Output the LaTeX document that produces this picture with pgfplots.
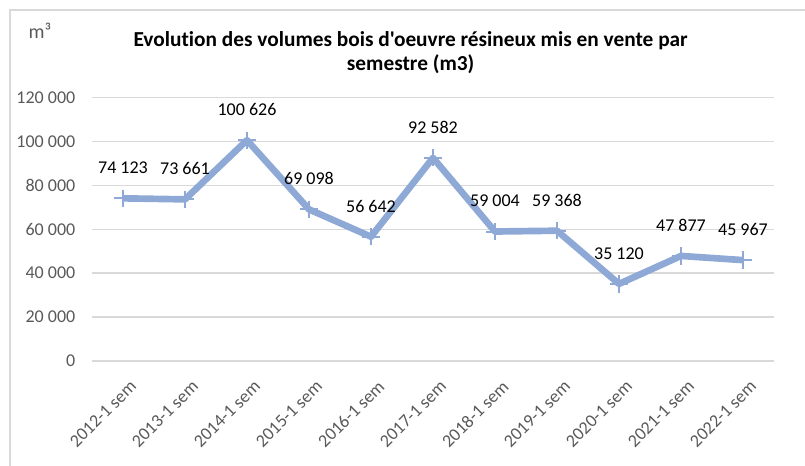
\documentclass[border=0pt]{standalone}
\usepackage{pgfplots}
\pgfplotsset{compat=1.18}
\usepackage{fontspec}
\setmainfont{Carlito}[Ligatures={NoCommon,TeXOff}]
\definecolor{linec}{RGB}{143,169,214}
\definecolor{gridc}{RGB}{217,217,217}
\definecolor{txtc}{RGB}{89,89,89}
\begin{document}
\begin{tikzpicture}
\useasboundingbox (0pt,0pt) rectangle (603.75pt,349.5pt);
\begin{scope}
\clip (0pt,0pt) rectangle (603.75pt,349.5pt);
\draw[gridc, line width=1.1pt] (7.5pt,-5pt) -- (7.5pt,342pt) -- (610pt,342pt);
\end{scope}
\node[txtc, font=\fontsize{15}{18}\selectfont] at (30pt,326.5pt) {m³};
\node[font=\fontsize{16}{18}\selectfont\bfseries, align=center] at (308pt,310pt) {Evolution des volumes bois d'oeuvre résineux mis en vente par\\semestre (m3)};
\begin{axis}[
  at={(69pt,78.75pt)}, anchor=south west,
  scale only axis, width=511.5pt, height=197.5pt,
  xmin=-0.5, xmax=10.5, ymin=0, ymax=120000,
  scaled y ticks=false,
  axis line style={draw=none},
  major tick style={draw=none},
  ymajorgrids, grid style={gridc, line width=1.1pt},
  ytick={0,20000,40000,60000,80000,100000,120000},
  yticklabels={0,20 000,40 000,60 000,80 000,100 000,120 000},
  xtick={0,1,2,3,4,5,6,7,8,9,10},
  xticklabels={2012-1 sem,2013-1 sem,2014-1 sem,2015-1 sem,2016-1 sem,2017-1 sem,2018-1 sem,2019-1 sem,2020-1 sem,2021-1 sem,2022-1 sem},
  x tick label style={rotate=45, anchor=north east, font=\fontsize{13.5}{16}\selectfont, text=txtc, inner sep=1pt, xshift=-5.3pt, yshift=-11.7pt},
  y tick label style={font=\fontsize{13.5}{16}\selectfont, text=txtc, xshift=-9pt},
  clip=false,
  nodes near coords, point meta=explicit symbolic,
  nodes near coords style={anchor=center, yshift=23pt, font=\fontsize{13.5}{16}\selectfont, text=black},
]
\addplot[linec, line width=5pt, line join=round, mark=+, mark size=6.5pt, mark options={line width=1.5pt}] coordinates {
(0,74123) [74 123]
(1,73661) [73 661]
(2,100626) [100 626]
(3,69098) [69 098]
(4,56642) [56 642]
(5,92582) [92 582]
(6,59004) [59 004]
(7,59368) [59 368]
(8,35120) [35 120]
(9,47877) [47 877]
(10,45967) [45 967]
};
\end{axis}
\end{tikzpicture}
\end{document}
